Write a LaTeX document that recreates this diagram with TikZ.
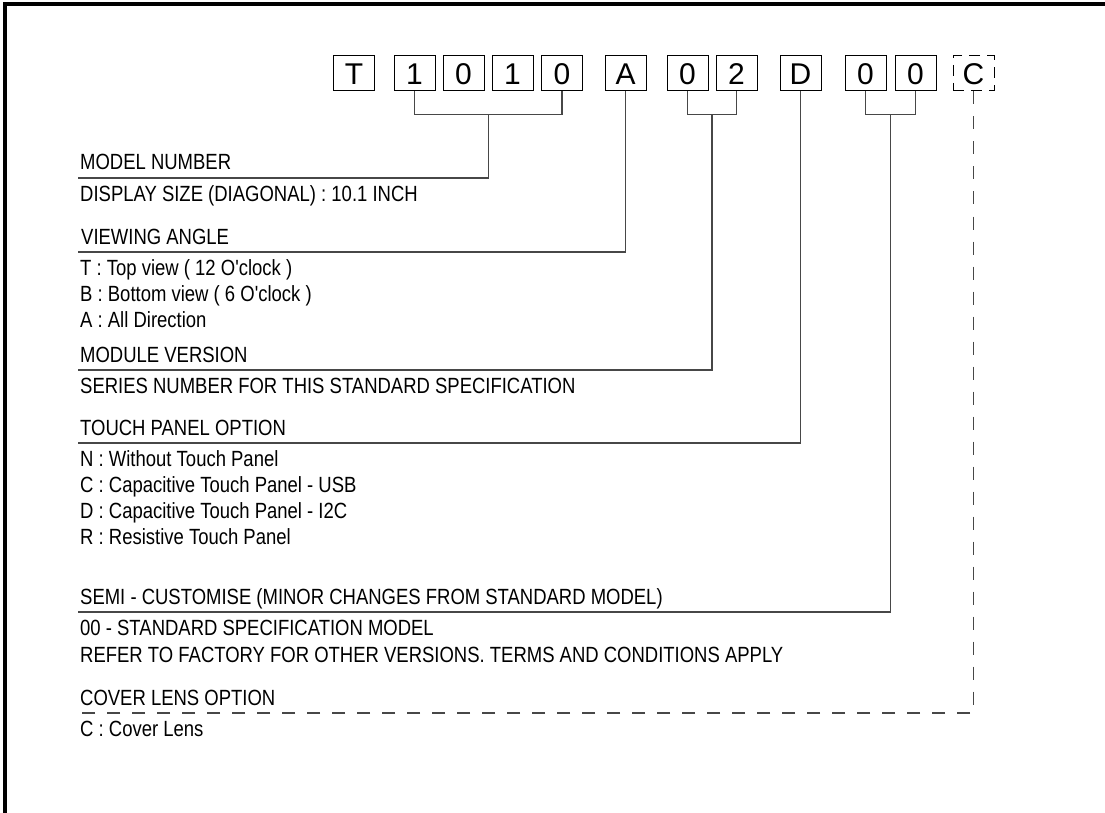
\documentclass[tikz,border=0pt]{standalone}
\usepackage{fontspec}
\setmainfont{Liberation Sans}
\newfontfamily\narrowfont{Liberation Sans}[FakeStretch=0.84]
\usetikzlibrary{calc}
\begin{document}
\begin{tikzpicture}[x=1pt,y=-1pt,
  digit/.style={draw=black, line width=1pt, minimum width=41pt, minimum height=35pt,
    inner sep=0pt, text height=21.5pt, text depth=0pt, font=\fontsize{30}{30}\selectfont},
  dashdigit/.style={digit, dash pattern=on 11pt off 7pt},
  lbl/.style={anchor=base west, inner sep=0pt, font=\narrowfont\fontsize{22}{24}\selectfont},
  conn/.style={draw=black!72, line width=1.1pt},
  dconn/.style={conn, dash pattern=on 13pt off 12pt}]
\useasboundingbox (0,0) rectangle (1105,813);
% frame
\draw[line width=4pt] (5,813) -- (5,4.5) -- (1105,4.5);
% code boxes
\node[digit] (bT) at (354,73.5) {T};
\node[digit] (b1) at (414.5,73.5) {1};
\node[digit] (b2) at (463.5,73.5) {0};
\node[digit] (b3) at (512.5,73.5) {1};
\node[digit] (b4) at (562,73.5) {0};
\node[digit] (bA) at (625.5,73.5) {A};
\node[digit] (b5) at (687.5,73.5) {0};
\node[digit] (b6) at (736.5,73.5) {2};
\node[digit] (bD) at (800.5,73.5) {D};
\node[digit] (b7) at (865.5,73.5) {0};
\node[digit] (b8) at (915.5,73.5) {0};
\node[dashdigit] (bC) at (973.5,73.5) {C};
% line start coordinates
\coordinate (s1) at (78,178);
\coordinate (s2) at (78,252);
\coordinate (s3) at (78,370);
\coordinate (s4) at (78,443);
\coordinate (s5) at (78,612);
\coordinate (s6) at (78,713);
% junctions
\coordinate (j1) at ($(b1.south)!0.5!(b4.south)+(0,23)$);
\coordinate (j2) at ($(b5.south)!0.5!(b6.south)+(0,23)$);
\coordinate (j3) at ($(b7.south)!0.5!(b8.south)+(0,23)$);
% connectors
\draw[conn] (b1.south) -- ++(0,23) -| (b4.south);
\draw[conn] (j1) |- (s1);
\draw[conn] (bA.south) |- (s2);
\draw[conn] (b5.south) -- ++(0,23) -| (b6.south);
\draw[conn] (j2) |- (s3);
\draw[conn] (bD.south) |- (s4);
\draw[conn] (b7.south) -- ++(0,23) -| (b8.south);
\draw[conn] (j3) |- (s5);
\draw[dconn] (bC.south) |- (s6);
% labels
\node[lbl] (h1) at (80,170) {MODEL NUMBER};
\node[lbl] (t11) at (80,201) {DISPLAY SIZE (DIAGONAL) : 10.1 INCH};
\node[lbl] (h2) at (81,244) {VIEWING ANGLE};
\node[lbl] (t21) at (80,275) {T : Top view ( 12 O'clock )};
\node[lbl] (t22) at (80,301) {B : Bottom view ( 6 O'clock )};
\node[lbl] (t23) at (80,327) {A : All Direction};
\node[lbl] (h3) at (80,362) {MODULE VERSION};
\node[lbl] (t31) at (80,393) {SERIES NUMBER FOR THIS STANDARD SPECIFICATION};
\node[lbl] (h4) at (80,435) {TOUCH PANEL OPTION};
\node[lbl] (t41) at (80,466) {N : Without Touch Panel};
\node[lbl] (t42) at (80,492) {C : Capacitive Touch Panel - USB};
\node[lbl] (t43) at (80,518) {D : Capacitive Touch Panel - I2C};
\node[lbl] (t44) at (80,544) {R : Resistive Touch Panel};
\node[lbl] (h5) at (80,604) {SEMI - CUSTOMISE (MINOR CHANGES FROM STANDARD MODEL)};
\node[lbl] (t51) at (80,635) {00 - STANDARD SPECIFICATION MODEL};
\node[lbl] (t52) at (80,662) {REFER TO FACTORY FOR OTHER VERSIONS. TERMS AND CONDITIONS APPLY};
\node[lbl] (h6) at (80,705) {COVER LENS OPTION};
\node[lbl] (t61) at (80,736) {C : Cover Lens};
\end{tikzpicture}
\end{document}
